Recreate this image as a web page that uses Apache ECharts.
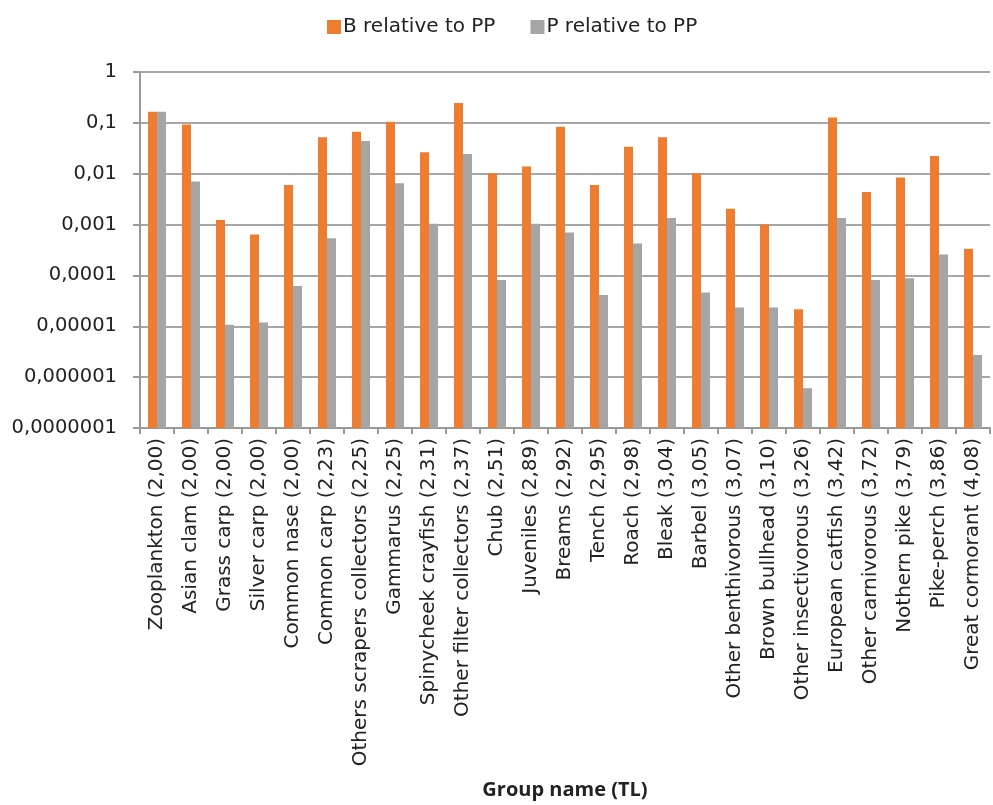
<!DOCTYPE html>
<html>
<head>
<meta charset="utf-8">
<script src="https://cdn.jsdelivr.net/npm/echarts@6/dist/echarts.min.js"></script>
<style>html,body{margin:0;padding:0;background:#fff}#c{width:993px;height:805px}</style>
</head>
<body>
<div id="c"></div>
<script>
const categories = ["Zooplankton (2,00)","Asian clam (2,00)","Grass carp (2,00)","Silver carp (2,00)","Common nase (2,00)","Common carp (2,23)","Others scrapers collectors (2,25)","Gammarus (2,25)","Spinycheek crayfish (2,31)","Other filter collectors (2,37)","Chub (2,51)","Juveniles (2,89)","Breams (2,92)","Tench (2,95)","Roach (2,98)","Bleak (3,04)","Barbel (3,05)","Other benthivorous (3,07)","Brown bullhead (3,10)","Other insectivorous (3,26)","European catfish (3,42)","Other carnivorous (3,72)","Nothern pike (3,79)","Pike-perch (3,86)","Great cormorant (4,08)"];
const bRelative = [0.165,0.093,0.00123,0.00064,0.006,0.052,0.067,0.105,0.0264,0.247,0.0102,0.0138,0.084,0.006,0.034,0.052,0.0102,0.00205,0.001,0.0000217,0.128,0.00435,0.0084,0.0224,0.000333];
const pRelative = [0.165,0.00703,0.0000107,0.0000119,0.000062,0.00054,0.044,0.00653,0.00104,0.0245,0.000081,0.00104,0.0007,0.000041,0.000424,0.00135,0.000046,0.0000234,0.0000234,0.000000607,0.00135,0.000081,0.000088,0.000258,0.00000273];
const seriesNames = ["B relative to PP","P relative to PP"];

function fmt(v){
  const n = Math.round(-Math.log10(v));
  if (n <= 0) return String(Math.round(v));
  return '0,' + '0'.repeat(n-1) + '1';
}
const font = "DejaVu Sans";
const chart = echarts.init(document.getElementById('c'));
chart.setOption({
  animation:false,
  color:['#ED7D31','#A5A5A5'],
  textStyle:{fontFamily:font},
  legend:{
    top:12, left:322, itemWidth:14, itemHeight:14, itemGap:35,
    icon:'rect',
    textStyle:{fontSize:20, color:'#222', fontFamily:font, padding:[0,0,0,-3]},
    data:seriesNames
  },
  grid:{left:140, right:3, top:72, bottom:377, containLabel:false},
  xAxis:{
    type:'category', data:categories,
    name:'Group name (TL)', nameLocation:'middle', nameGap:352,
    nameTextStyle:{fontSize:20, fontWeight:'bold', color:'#222', fontFamily:'Open Sans'},
    axisLine:{lineStyle:{color:'#999', width:2}},
    axisTick:{show:true, length:6, alignWithLabel:false, lineStyle:{color:'#999', width:2}},
    axisLabel:{rotate:90, fontSize:20, color:'#222', margin:10, fontFamily:font, interval:0}
  },
  yAxis:{
    type:'log', logBase:10, min:1e-7, max:1, startValue:1e-7,
    axisLine:{show:true, lineStyle:{color:'#999', width:2}},
    axisTick:{show:true, length:7, lineStyle:{color:'#999', width:2}},
    splitLine:{show:true, lineStyle:{color:'#a6a6a6', width:2}},
    minorTick:{show:false},
    axisLabel:{fontSize:19.5, color:'#222', margin:23, fontFamily:font, formatter:fmt}
  },
  series:[
    {name:seriesNames[0], type:'bar', data:bRelative, barWidth:9, barGap:'0%'},
    {name:seriesNames[1], type:'bar', data:pRelative, barWidth:9, barGap:'0%'}
  ]
});
</script>
</body>
</html>
